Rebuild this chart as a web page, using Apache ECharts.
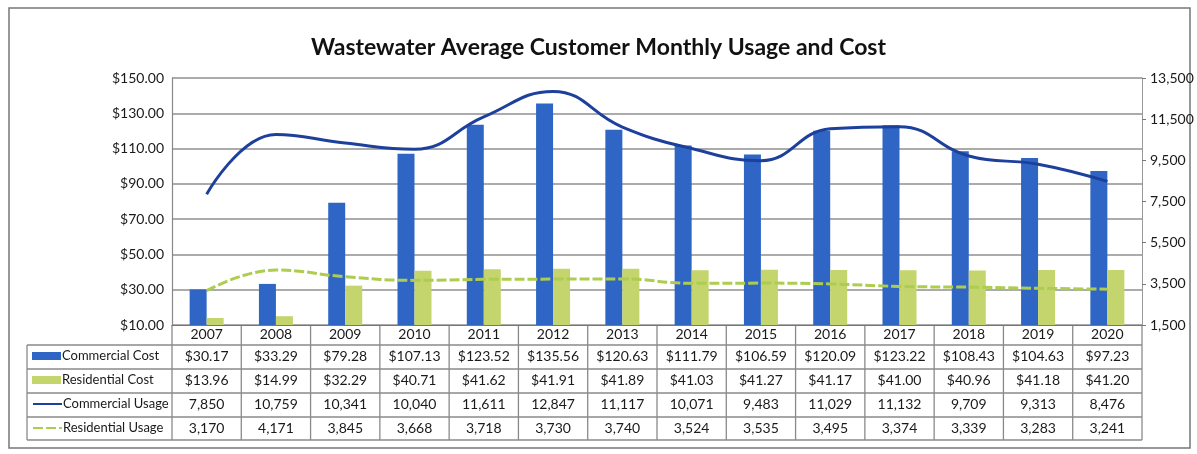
<!DOCTYPE html>
<html><head><meta charset="utf-8">
<script src="https://cdn.jsdelivr.net/npm/echarts@6/dist/echarts.min.js"></script>
<style>html,body{margin:0;padding:0;background:#fff}#c{width:1197px;height:454px}</style>
</head><body><div id="c"></div>
<script>
const years = ['2007','2008','2009','2010','2011','2012','2013','2014','2015','2016','2017','2018','2019','2020'];
const commercialCost = [30.17,33.29,79.28,107.13,123.52,135.56,120.63,111.79,106.59,120.09,123.22,108.43,104.63,97.23];
const residentialCost = [13.96,14.99,32.29,40.71,41.62,41.91,41.89,41.03,41.27,41.17,41.00,40.96,41.18,41.20];
const commercialUsage = [7850,10759,10341,10040,11611,12847,11117,10071,9483,11029,11132,9709,9313,8476];
const residentialUsage = [3170,4171,3845,3668,3718,3730,3740,3524,3535,3495,3374,3339,3283,3241];
const costAxis = {min:10, max:150, interval:20};
const usageAxis = {min:1500, max:13500, interval:2000};
const seriesNames = ['Commercial Cost','Residential Cost','Commercial Usage','Residential Usage'];

const FONT = 'Lato';
const money = v => '$' + v.toFixed(2);
const num = v => v.toLocaleString('en-US');

const chart = echarts.init(document.getElementById('c'));
const GRID = {left:172, right:55, top:78, bottom:129};
const ROW_OFF = [23, 47, 71, 95];
const tableRows = [commercialCost.map(money), residentialCost.map(money), commercialUsage.map(num), residentialUsage.map(num)];

function rowAxis(data, off){
  return {type:'category', data:data, gridIndex:0, position:'bottom', offset:off,
    axisLine:{show:false}, axisTick:{show:false},
    axisLabel:{interval:0, margin:1, fontFamily:FONT, fontSize:14, color:'#1a1a1a'}};
}
const legendIcons = ['rect','rect',null,null];
const legendTops = [349, 373, 397, 421];
const legends = seriesNames.map((n,i) => ({
  orient:'horizontal', left:32, top:legendTops[i], itemWidth:29, itemHeight:8, selectedMode:false, padding:0,
  data:[legendIcons[i] ? {name:n, icon:'rect'} : {name:n, itemStyle:{opacity:0}}],
  textStyle:{fontFamily:FONT, fontSize:13, color:'#1a1a1a', lineHeight:14, padding:[0,0,0,-4]}
}));

chart.setOption({
  animation:false,
  title:{text:'Wastewater Average Customer Monthly Usage and Cost', left:'center', top:31,
    textStyle:{fontFamily:FONT, fontSize:23, fontWeight:'bold', color:'#111'}},
  legend:legends,
  grid:GRID,
  xAxis:[
    {type:'category', data:years, axisLine:{lineStyle:{color:'#777', width:1.2}}, axisTick:{show:false},
     axisLabel:{interval:0, margin:2, fontFamily:FONT, fontSize:14, color:'#1a1a1a'}},
    rowAxis(tableRows[0], ROW_OFF[0]),
    rowAxis(tableRows[1], ROW_OFF[1]),
    rowAxis(tableRows[2], ROW_OFF[2]),
    rowAxis(tableRows[3], ROW_OFF[3])
  ],
  yAxis:[
    {type:'value', min:costAxis.min, max:costAxis.max, interval:costAxis.interval,
     axisLine:{show:true, lineStyle:{color:'#888', width:1.2}}, axisTick:{show:false},
     axisLabel:{formatter:v=>money(v), margin:8, fontFamily:FONT, fontSize:14, color:'#1a1a1a'},
     splitLine:{lineStyle:{color:'#8f8f8f', width:1.6}}},
    {type:'value', min:usageAxis.min, max:usageAxis.max, interval:usageAxis.interval, position:'right',
     axisLine:{show:true, lineStyle:{color:'#999', width:1}}, axisTick:{show:true, length:4, lineStyle:{color:'#777'}},
     axisLabel:{formatter:v=>num(v), margin:8, fontFamily:FONT, fontSize:14, color:'#1a1a1a'},
     splitLine:{show:false}}
  ],
  series:[
    {name:seriesNames[0], type:'bar', data:commercialCost, yAxisIndex:0, barWidth:17, barGap:'0%',
     itemStyle:{color:'#2f66c6'}},
    {name:seriesNames[1], type:'bar', data:residentialCost, yAxisIndex:0, barWidth:17,
     itemStyle:{color:'#c3d56c'}},
    {name:seriesNames[2], type:'line', data:commercialUsage, yAxisIndex:1, smooth:0.45, symbol:'none',
     lineStyle:{color:'#1d409c', width:3}, itemStyle:{color:'#1d409c'}},
    {name:seriesNames[3], type:'line', data:residentialUsage, yAxisIndex:1, smooth:0.45, symbol:'none',
     lineStyle:{color:'#aecd50', width:3, type:[10,3]}, itemStyle:{color:'#aecd50'}}
  ]
});

// table grid lines derived from the category axis
const c0 = chart.convertToPixel({xAxisIndex:0}, years[0]);
const c1 = chart.convertToPixel({xAxisIndex:0}, years[1]);
const step = c1 - c0;
const xL = c0 - step/2, xR = xL + step*years.length;
const yAxisPix = chart.convertToPixel({yAxisIndex:0}, costAxis.min);
const rowLines = ROW_OFF.map(o => yAxisPix + o - 3).concat([yAxisPix + ROW_OFF[3] + 20]);
const yBot = rowLines[rowLines.length-1];
const legendLeft = 27;
const lineStyle = {stroke:'#8a8a8a', lineWidth:1.3};
const g = [];
for (let i=0;i<=years.length;i++){
  const x = xL + step*i;
  g.push({type:'line', shape:{x1:x, y1:yAxisPix, x2:x, y2:yBot}, style:lineStyle, silent:true});
}
rowLines.forEach(y => g.push({type:'line', shape:{x1:legendLeft, y1:y, x2:xR, y2:y}, style:lineStyle, silent:true}));
g.push({type:'line', shape:{x1:legendLeft, y1:rowLines[0], x2:legendLeft, y2:yBot}, style:lineStyle, silent:true});
g.push({type:'rect', shape:{x:9, y:8, width:1181, height:440}, style:{fill:'none', stroke:'#777', lineWidth:1.5}, silent:true});
chart.setOption({graphic:g});
</script></body></html>
